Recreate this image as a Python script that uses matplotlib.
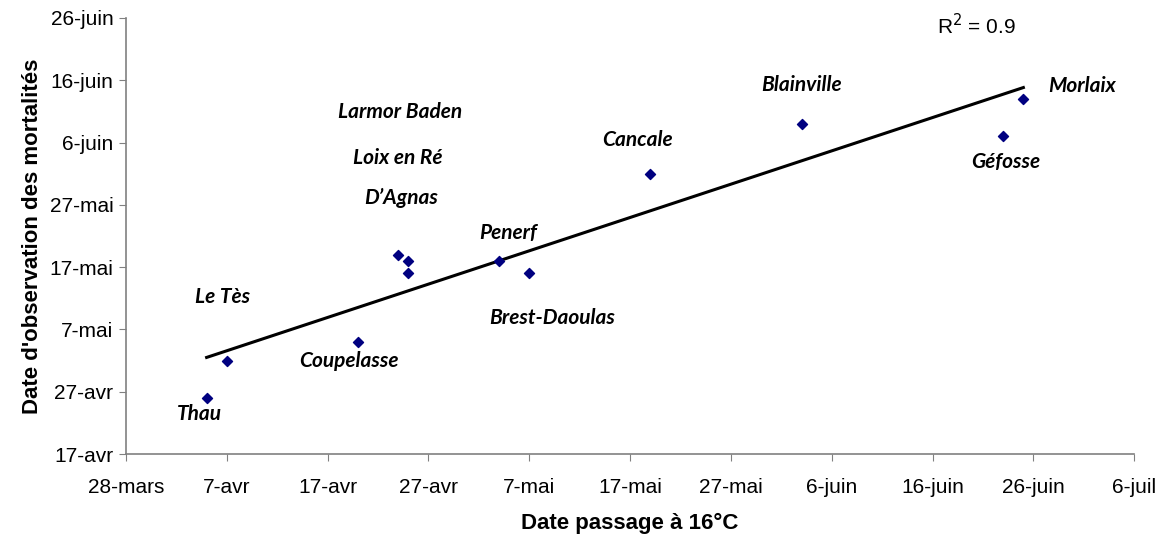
import numpy as np
import pandas as pd
import matplotlib
matplotlib.use("Agg")
import matplotlib.pyplot as plt
import matplotlib.dates as mdates

sites = ["Thau", "Le Tès", "Coupelasse", "Larmor Baden", "Loix en Ré", "D\u2019Agnas",
         "Penerf", "Brest-Daoulas", "Cancale", "Blainville", "Géfosse", "Morlaix"]
# date at which water reaches 16°C
passage_16 = ["2008-04-05", "2008-04-07", "2008-04-20", "2008-04-24", "2008-04-25", "2008-04-25",
              "2008-05-04", "2008-05-07", "2008-05-19", "2008-06-03", "2008-06-23", "2008-06-25"]
# date mortalities were observed
mortalite = ["2008-04-26", "2008-05-02", "2008-05-05", "2008-05-19", "2008-05-18", "2008-05-16",
             "2008-05-18", "2008-05-16", "2008-06-01", "2008-06-09", "2008-06-07", "2008-06-13"]

# label offsets from each point, in points
label_dx = [-5.5, -3, -6.5, 1.5, -7.4, -5.5, 6.5, 16.3, -9, 0, 1.5, 42]
label_dy = [-11.5, 46, -13.7, 102.4, 74.4, 54.5, 20, -32, 24.5, 28, -18.5, 9.6]

xticks = ["2008-03-28", "2008-04-07", "2008-04-17", "2008-04-27", "2008-05-07", "2008-05-17",
          "2008-05-27", "2008-06-06", "2008-06-16", "2008-06-26", "2008-07-06"]
xtick_labels = ["28-mars", "7-avr", "17-avr", "27-avr", "7-mai", "17-mai",
                "27-mai", "6-juin", "16-juin", "26-juin", "6-juil"]
yticks = ["2008-04-17", "2008-04-27", "2008-05-07", "2008-05-17", "2008-05-27",
          "2008-06-06", "2008-06-16", "2008-06-26"]
ytick_labels = ["17-avr", "27-avr", "7-mai", "17-mai", "27-mai", "6-juin", "16-juin", "26-juin"]

to_num = lambda d: mdates.date2num(pd.to_datetime(d))
x = to_num(passage_16)
y = to_num(mortalite)

plt.rcParams['font.family'] = ['Liberation Sans', 'DejaVu Sans']
fig = plt.figure(figsize=(11.63, 5.35), dpi=100)
ax = fig.add_axes([0.1083, 0.1514, 0.8670, 0.8150])

ax.scatter(x, y, marker='D', s=26, color='#000080', zorder=3)

# linear fit
a, b = np.polyfit(x, y, 1)
xs = np.array([x.min(), x.max()])
ax.plot(xs, a * xs + b, color='black', lw=2.2, zorder=2)
r2 = np.corrcoef(x, y)[0, 1] ** 2
ax.text(0.804, 0.982, r'R$^2$ = %.1f' % r2, transform=ax.transAxes, fontsize=15,
        ha='left', va='center')

for name, px, py, dx, dy in zip(sites, x, y, label_dx, label_dy):
    ax.annotate(name, (px, py), xytext=(dx, dy), textcoords='offset points',
                fontsize=15, family='Lato', fontweight='bold', fontstyle='italic',
                ha='center', va='center')

ax.set_xlim(to_num(xticks[0]), to_num(xticks[-1]))
ax.set_ylim(to_num(yticks[0]), to_num(yticks[-1]))
ax.set_xticks(to_num(xticks))
ax.set_xticklabels(xtick_labels)
ax.set_yticks(to_num(yticks))
ax.set_yticklabels(ytick_labels)
ax.tick_params(labelsize=15, color='#808080', length=5)
ax.tick_params(axis='x', pad=12)
ax.tick_params(axis='y', pad=4)

for s in ['top', 'right']:
    ax.spines[s].set_visible(False)
for s in ['left', 'bottom']:
    ax.spines[s].set_color('#808080')
    ax.spines[s].set_linewidth(1.2)

ax.set_xlabel('Date passage à 16°C', fontsize=16, fontweight='bold', labelpad=12)
ax.set_ylabel("Date d'observation des mortalités", fontsize=16, fontweight='bold', labelpad=5)

fig.savefig('out.png', dpi=100)
